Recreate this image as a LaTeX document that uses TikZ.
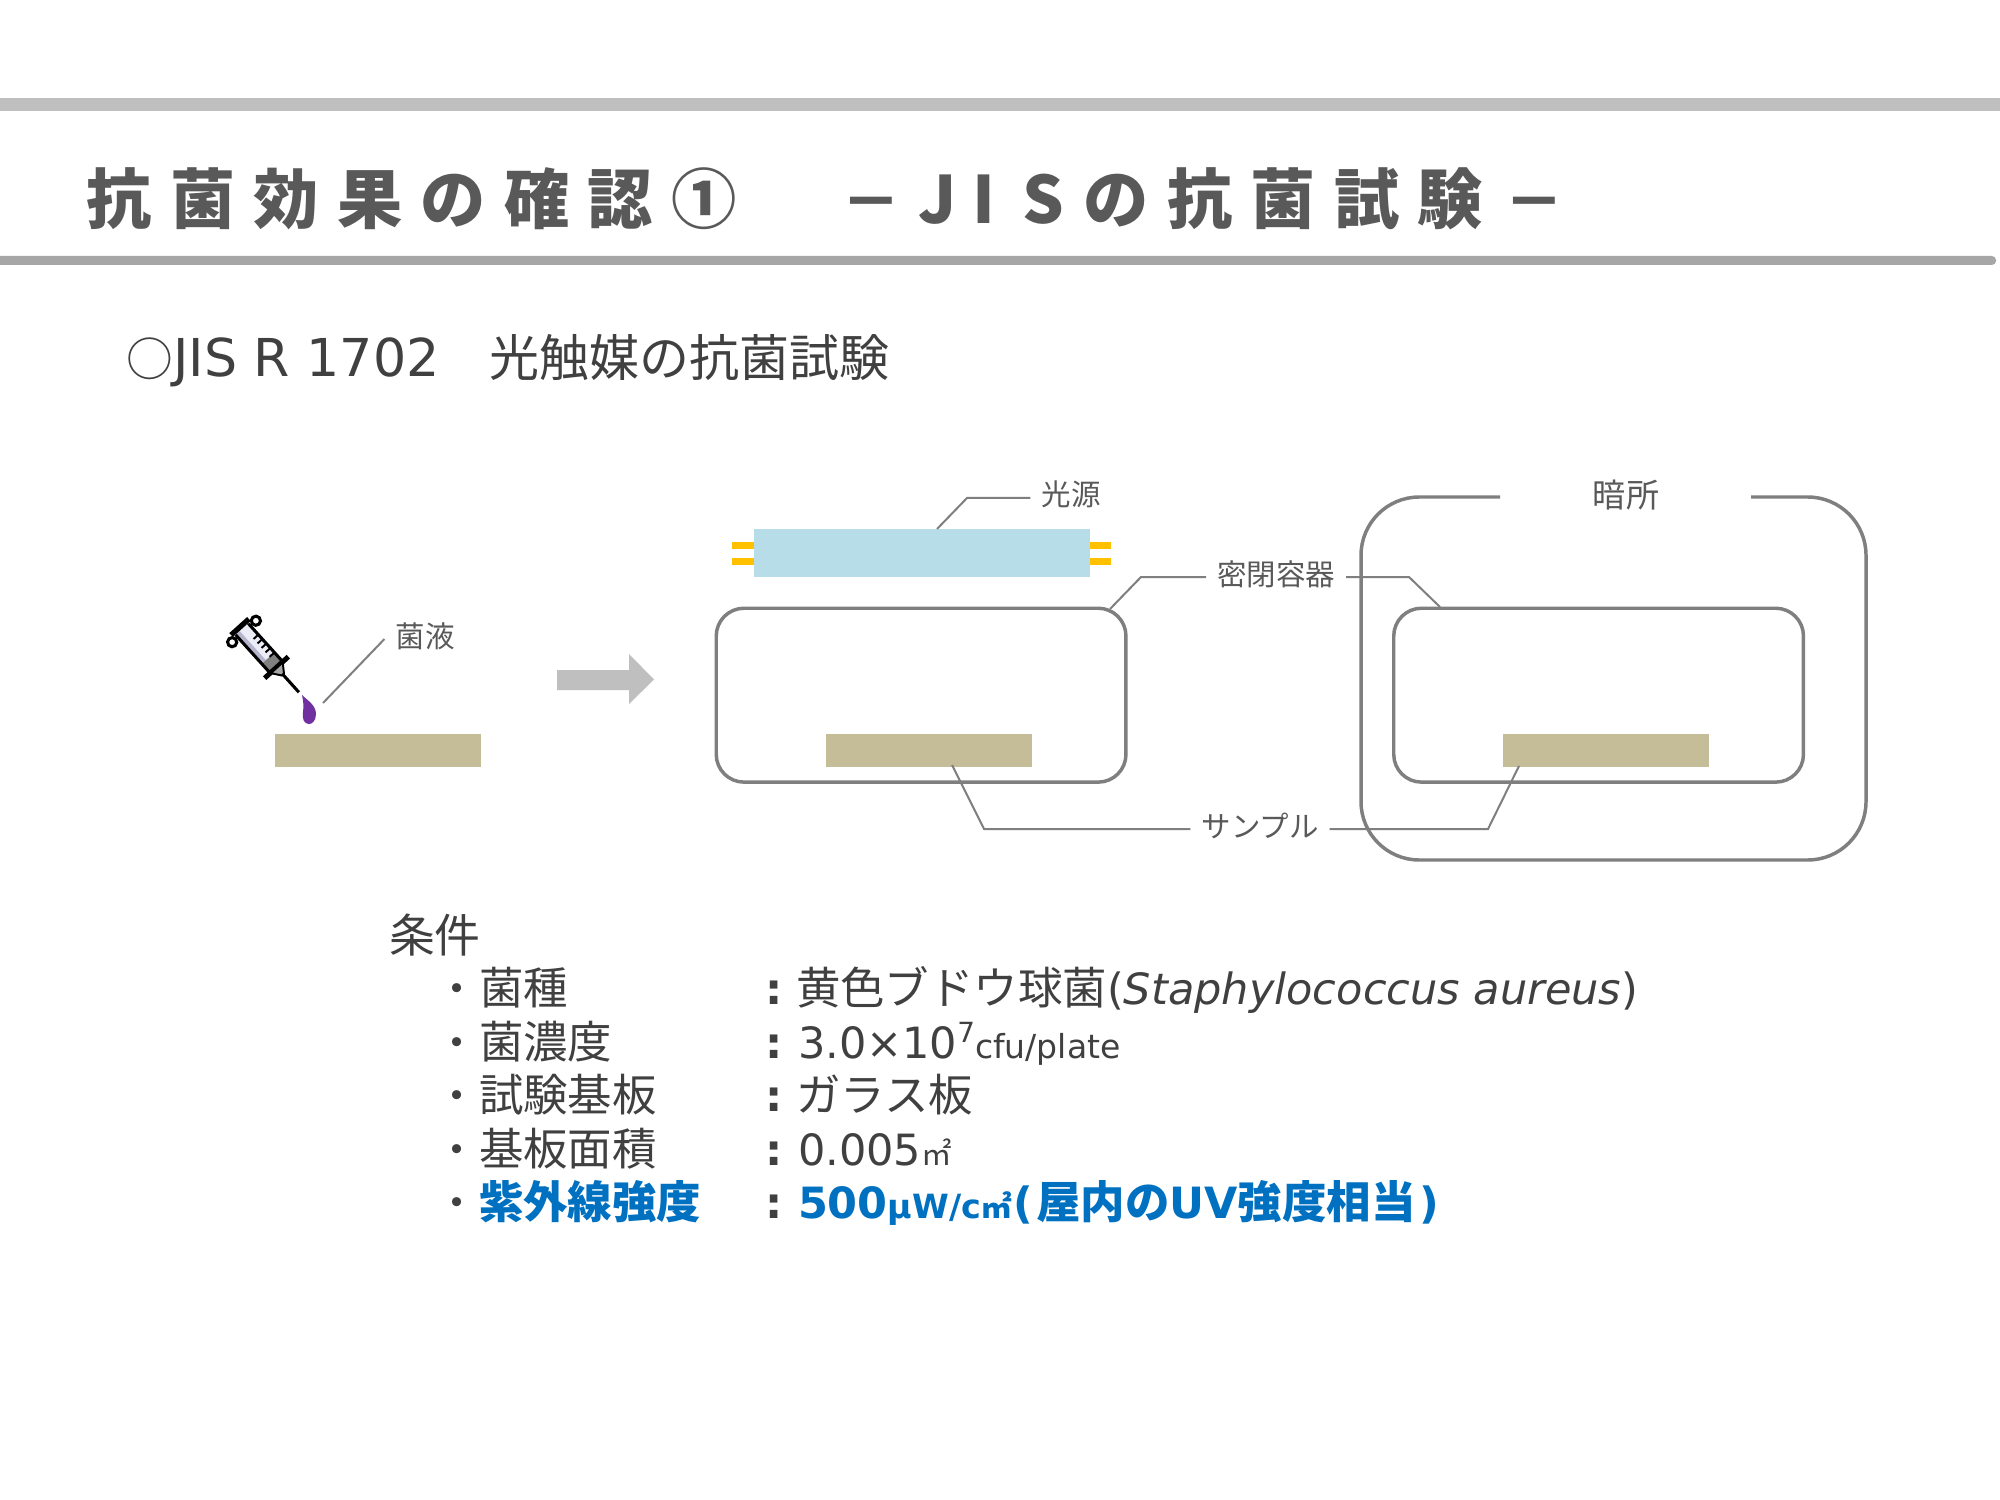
\documentclass[tikz,border=0pt]{standalone}
\usepackage{fontspec}
\setmainfont{DejaVu Sans}
\newfontfamily\jp{Noto Sans CJK JP}
\newfontfamily\tjp[LetterSpace=28]{Noto Sans CJK JP}
\definecolor{txt}{HTML}{404040}
\definecolor{lbl}{HTML}{595959}
\definecolor{ttl}{HTML}{595959}
\definecolor{bluet}{HTML}{0070C0}
\definecolor{sandc}{HTML}{C4BD97}
\definecolor{linec}{HTML}{7F7F7F}
\definecolor{lampc}{HTML}{B7DDE8}
\definecolor{pinc}{HTML}{FFC000}
\definecolor{dropc}{HTML}{7030A0}
\definecolor{barrelc}{HTML}{ECECF6}
\definecolor{barreld}{HTML}{B4B4CC}
\newcommand{\rowsize}{\fontsize{15.5}{19}\selectfont}
\newcommand{\jprow}{\jp\fontsize{16}{19}\selectfont}
\newcommand{\labelsize}{\fontsize{10.6}{12}\selectfont}
\newcommand{\titledash}{\jp\fontsize{21.5}{24}\selectfont\bfseries －}
\tikzset{
 fillrect/.style={draw=none,inner sep=0,outer sep=0,anchor=north west},
 vessel/.style={draw=linec,line width=1.25pt,rounded corners=10pt,inner sep=0,anchor=north west,minimum width=147.5pt,minimum height=62.6pt},
 sample/.style={fillrect,fill=sandc,minimum width=74.2pt,minimum height=11.9pt},
 leader/.style={draw=linec,line width=0.72pt},
 tag/.style={font=\jp\labelsize,text=lbl,inner xsep=4pt,inner ysep=0pt,text height=8pt,text depth=1.7pt,outer sep=0},
 rowtext/.style={anchor=base west,inner sep=0,outer sep=0,text=txt,font=\rowsize},
}
\begin{document}
\begin{tikzpicture}[x=0.36pt,y=-0.36pt]
\useasboundingbox (0,0) rectangle (2000,1500);
% header bars
\fill[fill=white] (0,0) rectangle (2000,1500);
\fill[fill=black!25] (0,98) rectangle (2000,111);
\fill[fill=black!35,rounded corners=1.5pt] (-20,256) rectangle (1996,265);
% title
\node[anchor=base west,inner sep=0,text=ttl,font=\fontsize{23.5}{27}\selectfont\bfseries] (title) at (86,224)
 {\makebox[271.6pt][l]{\tjp 抗菌効果の確認①}%
  \makebox[27.9pt][l]{\titledash}%
  \makebox[19.4pt][l]{\jp\bfseries J}\makebox[18pt][l]{\jp\bfseries I}\makebox[22pt][l]{\jp\bfseries S}%
  \makebox[151.5pt][l]{\tjp の抗菌試験}%
  {\titledash}};
% subtitle
\node[anchor=base west,inner sep=0,text=txt,font=\fontsize{18.8}{21}\selectfont] (subtitle) at (126,377)
 {{\jp\fontsize{16.8}{21}\selectfont ○}JIS R 1702{\jp\fontsize{18}{21}\selectfont 　光触媒の抗菌試験}};

% left: sample, syringe, drop
\node[sample] (s1) at (275,734) {};
\begin{scope}[shift={(240,627)}]
\begin{scope}[x={(0.241pt,-0.267pt)},y={(-0.267pt,-0.241pt)}]
 \fill[fill=barrelc] (3,-8) -- (54,-8) -- (54,8) -- (3,8) -- cycle;
 \fill[fill=barreld] (3,3) -- (42,3) -- (42,8) -- (3,8) -- cycle;
 \fill[fill=black!50] (42,-8) -- (54,-8) -- (54,8) -- (42,8) -- cycle;
 \draw[line width=1.1pt] (3,-8.5) -- (54,-8.5) (3,8.5) -- (54,8.5);
 \draw[line width=1.9pt] (0,-12) -- (0,12);
 \draw[line width=1.1pt] (6,-16) circle[radius=4.6];
 \draw[line width=1.1pt] (6,16) circle[radius=4.6];
 \foreach \t in {18,24,30,36,42} \draw[line width=.7pt] (\t,-8.5) -- (\t,-2);
 \draw[line width=1.8pt] (54.5,-16) -- (54.5,16);
 \fill[fill=black!35,draw=black,line width=.7pt] (55,-8) -- (64,-1.5) -- (64,1.5) -- (55,8) -- cycle;
 \draw[line width=1.1pt] (64,0) -- (88,0);
\end{scope}
\end{scope}
\fill[fill=dropc] (302,695) .. controls (307,700) and (316,705) .. (316,714) .. controls (316,721) and (312,724) .. (309,724) .. controls (304,724) and (302,719) .. (303,712) .. controls (304,706) and (303,700) .. (302,695) -- cycle;
\node[tag] (tliq) at (425,639) {菌液};
\coordinate (liqend) at (323,703);
\draw[leader] (tliq.west) -- (liqend);

% transition arrow
\fill[fill=black!25] (557,670) -- (629,670) -- (629,654) -- (654,679.5) -- (629,704) -- (629,690) -- (557,690) -- cycle;

% light source
\node[fillrect,fill=pinc,minimum width=8.2pt,minimum height=2.5pt] (pa) at (732,542) {};
\node[fillrect,fill=pinc,minimum width=8.2pt,minimum height=2.5pt] (pb) at (732,558) {};
\node[fillrect,fill=pinc,minimum width=8.2pt,minimum height=2.5pt] (pc) at (1088,542) {};
\node[fillrect,fill=pinc,minimum width=8.2pt,minimum height=2.5pt] (pd) at (1088,558) {};
\node[fillrect,fill=lampc,minimum width=121pt,minimum height=17.3pt] (lamp) at (753.5,529) {};
\node[tag,text height=7.6pt,text depth=2.1pt] (tsrc) at (1071,498) {光源};
\coordinate (srcbend) at (967,498);
\coordinate (srcend) at (937,529);
\draw[leader] (srcend) -- (srcbend) -- (tsrc.west);

% vessel under light
\node[vessel] (v1) at (714.5,606.5) {};
\node[sample] (s2) at (826,734) {};

% dark enclosure
\draw[draw=linec,line width=1.25pt,rounded corners=21pt] (1500,497) -- (1361,497) -- (1361,860) -- (1866,860) -- (1866,497) -- (1751,497);
\node[anchor=center,inner sep=0,text=lbl,font=\jp\fontsize{11.9}{14}\selectfont] (tdark) at (1626,495) {暗所};
\node[vessel] (v2) at (1392,606.5) {};
\node[sample] (s3) at (1502.5,734) {};

% labels shared by both vessels
\node[tag] (tves) at (1276,577) {密閉容器};
\coordinate (vesA) at (1110,609);
\coordinate (vesAb) at (1141,577);
\coordinate (vesB) at (1440,607);
\coordinate (vesBb) at (1409,577);
\draw[leader] (vesA) -- (vesAb) -- (tves.west);
\draw[leader] (tves.east) -- (vesBb) -- (vesB);
\node[tag] (tsam) at (1260,829) {サンプル};
\coordinate (samA) at (952,765);
\coordinate (samAb) at (984,829);
\coordinate (samB) at (1519,766);
\coordinate (samBb) at (1488,829);
\draw[leader] (samA) -- (samAb) -- (tsam.west);
\draw[leader] (tsam.east) -- (samBb) -- (samB);

% conditions
\node[rowtext,font=\jp\fontsize{16.5}{19}\selectfont] (cond) at (389,952) {条件};
\foreach \n/\y in {a/1004.5,b/1058,c/1111.5,d/1165,e/1218.5}{
 \node[rowtext,font=\jp\rowsize] (dot\n) at (435,\y) {・};
 \node[rowtext,font=\bfseries\rowsize] (col\n) at (765,\y) {:};
}
\node[rowtext,font=\jprow] (ka) at (479,1004.5) {菌種};
\node[rowtext,font=\jprow] (kb) at (479,1058) {菌濃度};
\node[rowtext,font=\jprow] (kc) at (479,1111.5) {試験基板};
\node[rowtext,font=\jprow] (kd) at (479,1165) {基板面積};
\node[rowtext,text=bluet,font=\jprow\bfseries] (ke) at (479,1218.5) {紫外線強度};
\node[rowtext] (va) at (796,1004.5) {{\jprow 黄色ブドウ球菌}(\textsl{Staphylococcus aureus})};
\node[rowtext] (vb) at (798,1058) {3.0×10\raisebox{5.5pt}{\fontsize{10}{12}\selectfont 7}{\fontsize{11.9}{13}\selectfont cfu/plate}};
\node[rowtext,font=\jprow] (vc) at (796,1111.5) {ガラス板};
\node[rowtext] (vd) at (798,1165) {0.005{\jp\fontsize{11}{13}\selectfont ㎡}};
\node[rowtext,text=bluet,font=\rowsize\bfseries] (ve) at (798,1218.5) {500{\fontsize{12}{14}\selectfont μW/c}{\jp\fontsize{11}{13}\selectfont\bfseries ㎡}\hspace{.6pt}(\hspace{1.2pt}{\jprow\bfseries 屋内の}UV{\jprow\bfseries 強度相当}\hspace{1.2pt})};
\end{tikzpicture}
\end{document}
